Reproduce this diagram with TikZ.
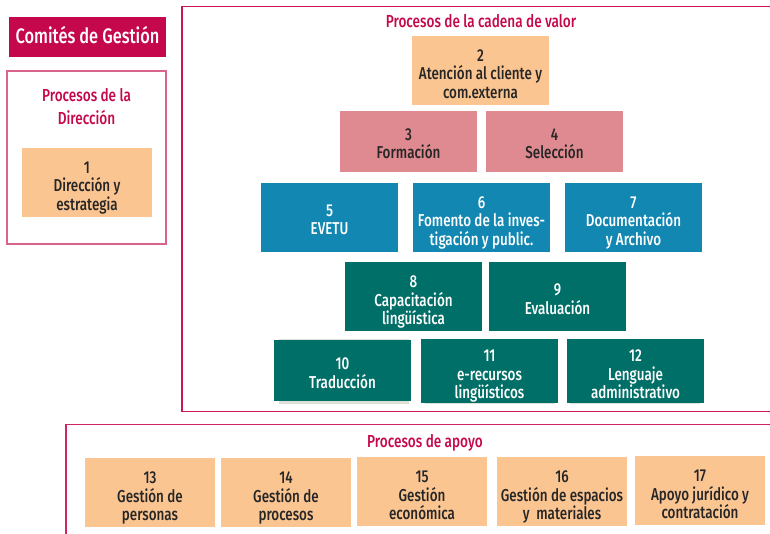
\documentclass[tikz,border=0pt]{standalone}
\usepackage{fontspec}
\setmainfont{Fira Sans Medium}[FakeStretch=0.78]
\definecolor{crim}{HTML}{C5084B}
\definecolor{frm}{HTML}{D0145A}
\definecolor{frmlight}{HTML}{D8638D}
\definecolor{orng}{HTML}{FBC592}
\definecolor{pnk}{HTML}{DE8A90}
\definecolor{blu}{HTML}{1187B2}
\definecolor{tea}{HTML}{006F67}
\definecolor{txt}{HTML}{262626}
\definecolor{shd}{HTML}{DDE0D6}
\newcommand\sthree{\rule{0pt}{23pt}}
\newcommand\stwo{\rule{0pt}{20.5pt}}
\newcommand\sbot{\rule[-4pt]{0pt}{4pt}}
\tikzset{
  boxbase/.style={inner sep=0pt, align=center, font=\fontsize{17.2}{18.5}\selectfont},
  obox/.style={boxbase, fill=orng, text=txt, minimum width=130pt, minimum height=69pt},
  pbox/.style={boxbase, fill=pnk, text=txt, minimum width=137pt, minimum height=61pt},
  bbox/.style={boxbase, fill=blu, text=white, minimum width=137pt, minimum height=69pt},
  tbox/.style={boxbase, fill=tea, text=white, minimum width=137pt, minimum height=69pt},
  ttl/.style={text=crim, align=center, inner sep=0pt, font=\fontsize{17.4}{23}\selectfont},
  frame/.style={line width=1.6pt}
}
\begin{document}
\begin{tikzpicture}[x=1pt,y=-1pt]
\useasboundingbox (0,0) rectangle (770,534);
\clip (0,0) rectangle (770,534);
% frames
\draw[frame, draw=frmlight] (7,71) rectangle (166,244);
\draw[frame, draw=frm] (182,6.5) rectangle (790,411.5);
\draw[frame, draw=frm!80!frmlight] (66,424.5) rectangle (790,560);
% Comites
\node[fill=crim, minimum width=157pt, minimum height=40pt, inner sep=0pt] (com) at (87.5,37) {};
\node[text=white, inner sep=0pt, anchor=base, font=\fontsize{21}{22}\selectfont] (comt) at (87.5,44) {Comités de Gestión};
% titles
\node[ttl] (tdir) at (86.5,106.5) {Procesos de la\\Dirección};
\node[ttl, anchor=base] (tcad) at (481,27.5) {Procesos de la cadena de valor};
\node[ttl, anchor=base] (tapo) at (425,447) {Procesos de apoyo};
% direction
\node[obox] (n1) at (87,182.5) {\sthree 1\\Dirección y\\estrategia\sbot};
% value chain
\node[obox, minimum width=137pt] (n2) at (480.5,70.5) {\sthree 2\\Atención al cliente y\\com.externa\sbot};
\node[pbox] (n3) at (408.5,141.5) {\stwo 3\\Formación\sbot};
\node[pbox] (n4) at (554.5,141.5) {\stwo 4\\Selección\sbot};
\node[bbox] (n5) at (329.5,217.5) {\stwo 5\\EVETU\sbot};
\node[bbox] (n6) at (481.5,217.5) {\sthree 6\\Fomento de la inves-\\tigación y public.\sbot};
\node[bbox] (n7) at (633.5,217.5) {\sthree 7\\Documentación\\y Archivo\sbot};
\node[tbox] (n8) at (413.5,296.5) {\sthree 8\\Capacitación\\lingüística\sbot};
\node[tbox] (n9) at (557.5,296.5) {\stwo 9\\Evaluación\sbot};
% shadows of row 5
\fill[shd] (279,338.5) rectangle (409,404);
\fill[shd] (425,338.5) rectangle (555,404);
\fill[shd] (570,338.5) rectangle (700,404);
\node[tbox, minimum height=61pt] (n10) at (342.5,370.5) {\stwo 10\\Traducción\sbot};
\node[tbox, minimum height=61pt] (n11) at (489.5,370.5) {\sthree 11\\e-recursos\\lingüísticos\sbot};
\node[tbox, minimum height=61pt] (n12) at (635.5,370.5) {\sthree 12\\Lenguaje\\administrativo\sbot};
% support
\node[obox] (n13) at (150,492.5) {\sthree 13\\Gestión de\\personas\sbot};
\node[obox] (n14) at (286,492.5) {\sthree 14\\Gestión de\\procesos\sbot};
\node[obox] (n15) at (422,491.5) {\sthree 15\\Gestión\\económica\sbot};
\node[obox] (n16) at (562,491.5) {\sthree 16\\Gestión de espacios\\y~ materiales\sbot};
\node[obox] (n17) at (700,490.5) {\sthree 17\\Apoyo jurídico y\\contratación\sbot};
\end{tikzpicture}
\end{document}
